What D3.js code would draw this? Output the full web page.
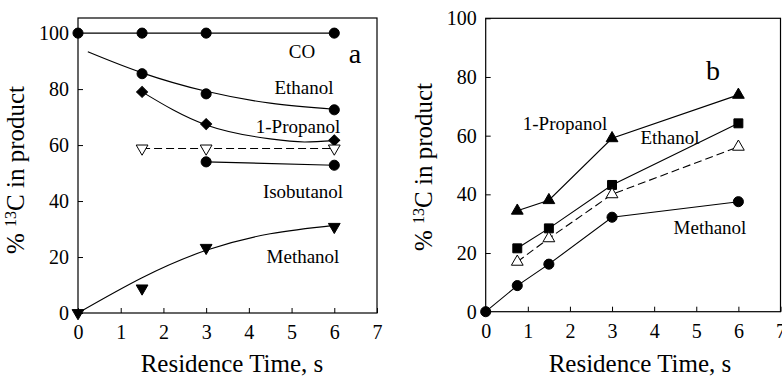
<!DOCTYPE html>
<html>
<head>
<meta charset="utf-8">
<script src="https://cdn.jsdelivr.net/npm/d3@7"></script>
<style>
  body { margin: 0; background: #fff; }
</style>
</head>
<body>
<div id="chart"></div>
<script>
// ---- panel a data ----
const aCO = [[0, 100], [1.5, 100], [3, 100], [6, 100]];
const aEthanol = [[1.5, 85.5], [3, 78.3], [6, 72.6]];
const aEthanolFit = [[0.23, 93.3], [1.5, 85.8], [3, 79.2], [4.5, 75.0], [6, 72.8]];
const aPropanol = [[1.5, 79], [3, 67.5], [6, 61.7]];
const aPropanolFit = [[1.5, 79], [3, 67.2], [4.5, 62.2], [5.3, 61.1], [6, 61.6]];
const aOpenTri = [[1.5, 58.8], [3, 58.8], [6, 58.8]];
const aIsobutanol = [[3, 54], [6, 52.8]];
const aMethanol = [[0, 0], [1.5, 8.8], [3, 23.3], [6, 30.8]];
const aMethanolFit = [[0, 0], [1.5, 12.6], [3, 22.4], [4.5, 28.3], [6, 31.3]];

// ---- panel b data ----
const bPropanol = [[0.75, 34.4], [1.5, 38], [3, 59.1], [6, 73.9]];
const bEthanol = [[0.75, 21.6], [1.5, 28.4], [3, 43.2], [6, 64.2]];
const bOpenTri = [[0.75, 17], [1.5, 25], [3, 40], [6, 56.2]];
const bMethanol = [[0, 0], [0.75, 8.9], [1.5, 16.2], [3, 32.2], [6, 37.5]];

const xTicks = [0, 1, 2, 3, 4, 5, 6, 7];
const yTicks = [0, 20, 40, 60, 80, 100];

const FONT = "Liberation Serif";

const svg = d3.select("#chart").append("svg")
  .attr("width", 782)
  .attr("height", 378);

function makePanel(left, right, top, bottom, yMax) {
  const x = d3.scaleLinear().domain([0, 7]).range([left, right]);
  const y = d3.scaleLinear().domain([0, yMax]).range([bottom, top]);
  const g = svg.append("g");

  g.append("g")
    .attr("transform", "translate(0," + bottom + ")")
    .call(d3.axisBottom(x).tickValues(xTicks).tickFormat(d3.format("d"))
      .tickSizeInner(-5).tickSizeOuter(0).tickPadding(12))
    .call(s => s.select(".domain").remove());
  g.append("g")
    .attr("transform", "translate(" + left + ",0)")
    .call(d3.axisLeft(y).tickValues(yTicks).tickFormat(d3.format("d"))
      .tickSizeInner(-5).tickSizeOuter(0).tickPadding(9))
    .call(s => s.select(".domain").remove());
  g.selectAll(".tick text")
    .attr("font-family", FONT)
    .attr("font-size", 20)
    .attr("fill", "#000");
  g.selectAll(".tick line").attr("stroke", "#000");

  g.append("rect")
    .attr("x", left).attr("y", top)
    .attr("width", right - left).attr("height", bottom - top)
    .attr("fill", "none").attr("stroke", "#000").attr("stroke-width", 1.2);

  return { g, x, y };
}

function drawLine(p, pts, curve, dashed) {
  const line = d3.line().x(d => p.x(d[0])).y(d => p.y(d[1])).curve(curve || d3.curveLinear);
  p.g.append("path")
    .attr("d", line(pts))
    .attr("fill", "none")
    .attr("stroke", "#000")
    .attr("stroke-width", 1.1)
    .attr("stroke-dasharray", dashed ? "8,4" : null);
}

function drawMarks(p, pts, kind) {
  const sel = p.g.append("g").selectAll("path").data(pts).enter().append("path")
    .attr("transform", d => "translate(" + p.x(d[0]) + "," + p.y(d[1]) + ")");
  let sym, fill = "#000";
  if (kind === "circle") sym = d3.symbol(d3.symbolCircle, 80);
  if (kind === "square") sym = d3.symbol(d3.symbolSquare, 80);
  if (kind === "diamond") sym = d3.symbol(d3.symbolSquare, 60);
  if (kind === "up" || kind === "upOpen") sym = d3.symbol(d3.symbolTriangle, 60);
  if (kind === "down" || kind === "downOpen") sym = d3.symbol(d3.symbolTriangle, 60);
  if (kind === "upOpen" || kind === "downOpen") fill = "#fff";
  sel.attr("d", sym)
    .attr("fill", fill)
    .attr("stroke", "#000")
    .attr("stroke-width", 1);
  if (kind === "diamond") sel.attr("transform", d => "translate(" + p.x(d[0]) + "," + p.y(d[1]) + ") rotate(45)");
  if (kind === "down" || kind === "downOpen") sel.attr("transform", d => "translate(" + p.x(d[0]) + "," + p.y(d[1]) + ") rotate(180)");
}

function label(p, txt, px, py, size, anchor) {
  p.g.append("text")
    .attr("x", px).attr("y", py)
    .attr("font-family", FONT)
    .attr("font-size", size)
    .attr("text-anchor", anchor || "middle")
    .text(txt);
}

function axisTitles(p, xMid, yTitleX, yMid) {
  p.g.append("text")
    .attr("x", xMid).attr("y", 372)
    .attr("font-family", FONT)
    .attr("font-size", 25)
    .attr("text-anchor", "middle")
    .text("Residence Time, s");
  const t = p.g.append("text")
    .attr("transform", "translate(" + yTitleX + "," + yMid + ") rotate(-90)")
    .attr("font-family", FONT)
    .attr("font-size", 25)
    .attr("text-anchor", "middle");
  t.append("tspan").text("% ");
  t.append("tspan").attr("font-size", 16).attr("dy", -8).text("13");
  t.append("tspan").attr("dy", 8).text("C in product");
}

// ---------- panel a ----------
const pa = makePanel(78, 377, 18, 313, 105.4);
drawLine(pa, aCO);
drawLine(pa, aEthanolFit, d3.curveNatural);
drawLine(pa, aPropanolFit, d3.curveNatural);
drawLine(pa, aOpenTri, d3.curveLinear, true);
drawLine(pa, aIsobutanol);
drawLine(pa, aMethanolFit, d3.curveNatural);
drawMarks(pa, aCO, "circle");
drawMarks(pa, aEthanol, "circle");
drawMarks(pa, aPropanol, "diamond");
drawMarks(pa, aOpenTri, "downOpen");
drawMarks(pa, aIsobutanol, "circle");
drawMarks(pa, aMethanol, "down");
label(pa, "CO", 302, 58, 19);
label(pa, "a", 355, 63, 28);
label(pa, "Ethanol", 304, 94, 19);
label(pa, "1-Propanol", 298, 133, 19);
label(pa, "Isobutanol", 303, 198, 19);
label(pa, "Methanol", 303, 263, 19);
axisTitles(pa, 232, 24, 170);

// ---------- panel b ----------
const pb = makePanel(485.7, 780.5, 18.3, 311.7, 100);
drawLine(pb, bPropanol);
drawLine(pb, bEthanol);
drawLine(pb, bOpenTri, d3.curveLinear, true);
drawLine(pb, bMethanol);
drawMarks(pb, bPropanol, "up");
drawMarks(pb, bEthanol, "square");
drawMarks(pb, bOpenTri, "upOpen");
drawMarks(pb, bMethanol, "circle");
label(pb, "b", 713, 80, 28);
label(pb, "1-Propanol", 565, 130, 19);
label(pb, "Ethanol", 670, 144, 19);
label(pb, "Methanol", 710, 234, 19);
axisTitles(pb, 640, 432, 167);
</script>
</body>
</html>
